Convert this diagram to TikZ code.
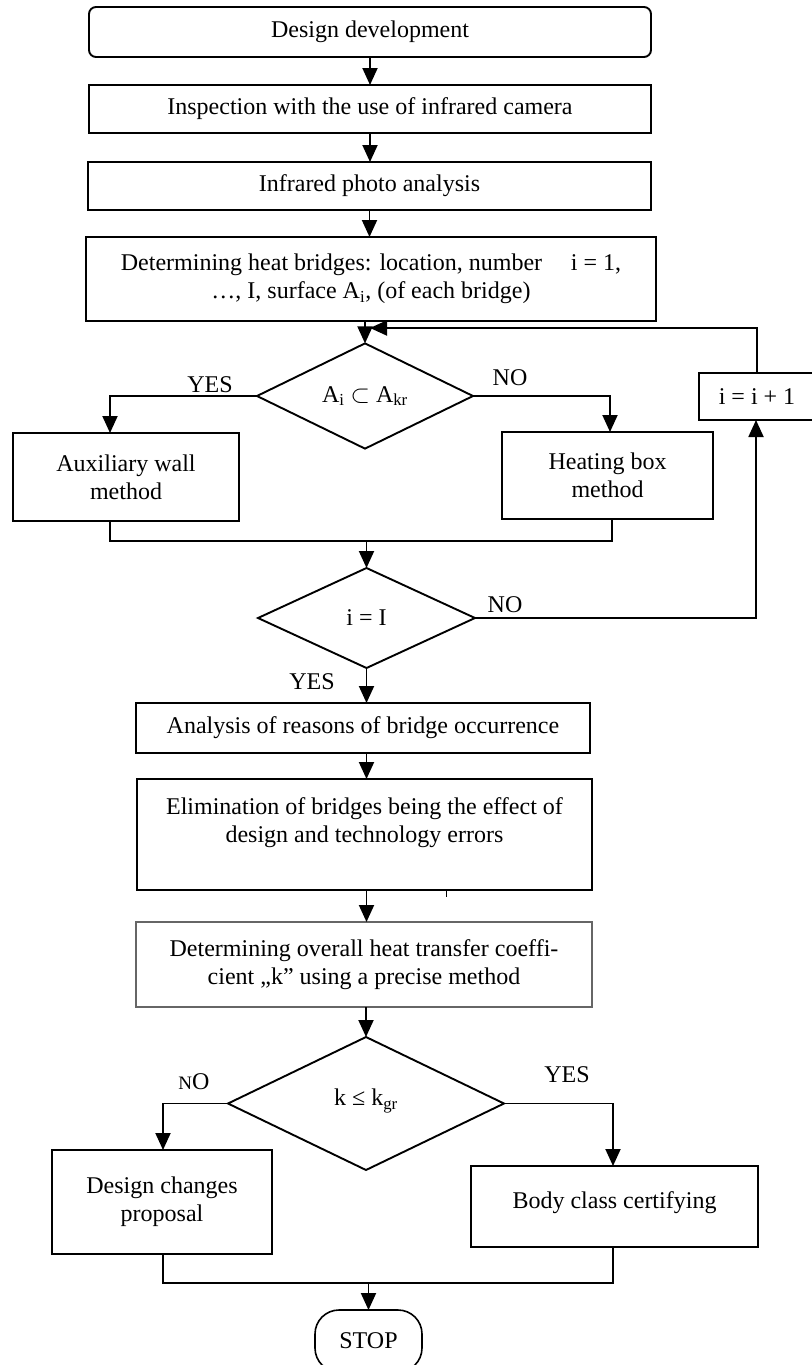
\documentclass[tikz,border=0pt]{standalone}
\usepackage{fontspec}
\setmainfont{Liberation Serif}
\usetikzlibrary{arrows.meta,shapes.geometric,calc}
\begin{document}
\begin{tikzpicture}[x=1pt,y=-1pt,
  every node/.style={font=\fontsize{24}{28}\selectfont},
  box/.style={draw,line width=1.9pt,inner sep=0pt,outer sep=0pt,align=center},
  dec/.style={draw,diamond,line width=1.9pt,inner sep=0pt,outer sep=0pt},
  lbl/.style={inner sep=0pt},
  link/.style={line width=1.9pt},
  arr/.style={line width=1.9pt,-{Triangle[length=17pt,width=15pt]}}]
\useasboundingbox (0,0) rectangle (811,1365);
\fill[white] (0,0) rectangle (811,1365);

\node[box,rounded corners=7pt,minimum width=562pt,minimum height=50pt] (start) at (370,32) {Design development};
\node[box,minimum width=562pt,minimum height=48pt] (insp) at (370,109) {Inspection with the use of infrared camera};
\node[box,minimum width=563pt,minimum height=48pt] (photo) at (369.5,186) {Infrared photo analysis};
\node[box,minimum width=570pt,minimum height=84pt] (det1) at (371,279) {Determining heat bridges: location, number\hspace{1.2em}i = 1,\\…, I, surface A\textsubscript{i}, (of each bridge)};
\node[dec,minimum width=216pt,minimum height=102pt] (d1) at (365,396) {A\textsubscript{i} $\subset$ A\textsubscript{kr}};
\node[box,minimum width=226pt,minimum height=88pt] (aux) at (126,477) {Auxiliary wall\\method};
\node[box,minimum width=211pt,minimum height=87pt] (heat) at (607.5,475.5) {Heating box\\method};
\node[box,minimum width=116pt,minimum height=47pt] (inc) at (757,396.5) {i = i + 1};
\node[dec,minimum width=217pt,minimum height=100pt] (d2) at (366.5,618) {i = I};
\node[box,minimum width=454pt,minimum height=50pt] (anal) at (363,728) {Analysis of reasons of bridge occurrence};
\node[box,minimum width=455pt,minimum height=111pt] (elim) at (364.5,834.5) {Elimination of bridges being the effect of\\design and technology errors\\~};
\node[box,draw=black!60,minimum width=456pt,minimum height=85pt] (coef) at (364,964.5) {Determining overall heat transfer coeffi-\\cient „k” using a precise method};
\node[dec,minimum width=276pt,minimum height=133pt] (d3) at (366,1103.5) {\raisebox{12pt}{k ≤ k\textsubscript{gr}}};
\node[box,minimum width=220pt,minimum height=104pt] (chg) at (162,1202) {Design changes\\proposal};
\node[box,minimum width=287pt,minimum height=81pt] (cert) at (614.5,1206.5) {\raisebox{13pt}{Body class certifying}};
\node[box,line width=1.6pt,rounded corners=24pt,minimum width=107pt,minimum height=62pt] (stop) at (368.5,1341) {STOP};

\node[lbl] (yes1) at (210,385) {YES};
\node[lbl] (no1) at (510,378) {NO};
\node[lbl] (no2) at (505,605) {NO};
\node[lbl] (yes2) at (312,682) {YES};
\node[lbl] (no3) at (194,1082) {{\fontsize{19}{20}\selectfont N}O};
\node[lbl] (yes3) at (567,1075) {YES};

\draw[arr] (start.south) -- (start.south |- insp.north);
\draw[arr] (insp.south) -- (insp.south |- photo.north);
\draw[arr] (photo.south) -- (photo.south |- det1.north);
\draw[arr] (det1.south -| d1.north) -- (d1.north);
\coordinate (fb) at (370,328);
\draw[arr] (inc.north) |- (fb);
\draw[arr] (d1.west) -| ([xshift=-16pt]aux.north);
\draw[arr] (d1.east) -| ([xshift=2.5pt]heat.north);
\coordinate (m1) at (366.5,541);
\draw[link] ([xshift=-16pt]aux.south) |- (m1) -| ([xshift=4.5pt]heat.south);
\draw[arr] (m1) -- (d2.north);
\draw[arr] (d2.east) -| ([xshift=-1pt]inc.south);
\draw[arr] (d2.south) -- (d2.south |- anal.north);
\draw[arr] (anal.south -| d2.south) -- (elim.north -| d2.south);
\draw[arr] (elim.south -| d2.south) -- (coef.north -| d2.south);
\draw[arr] (coef.south -| d3.north) -- (d3.north);
\draw[line width=1pt] (446,890) -- (446,897);
\draw[arr] (d3.west) -| ([xshift=1pt]chg.north);
\draw[arr] (d3.east) -| ([xshift=-1.5pt]cert.north);
\coordinate (m2) at (368.5,1283);
\draw[link] ([xshift=1pt]chg.south) |- (m2) -| ([xshift=-1.5pt]cert.south);
\draw[arr] (m2) -- (stop.north);
\end{tikzpicture}
\end{document}
